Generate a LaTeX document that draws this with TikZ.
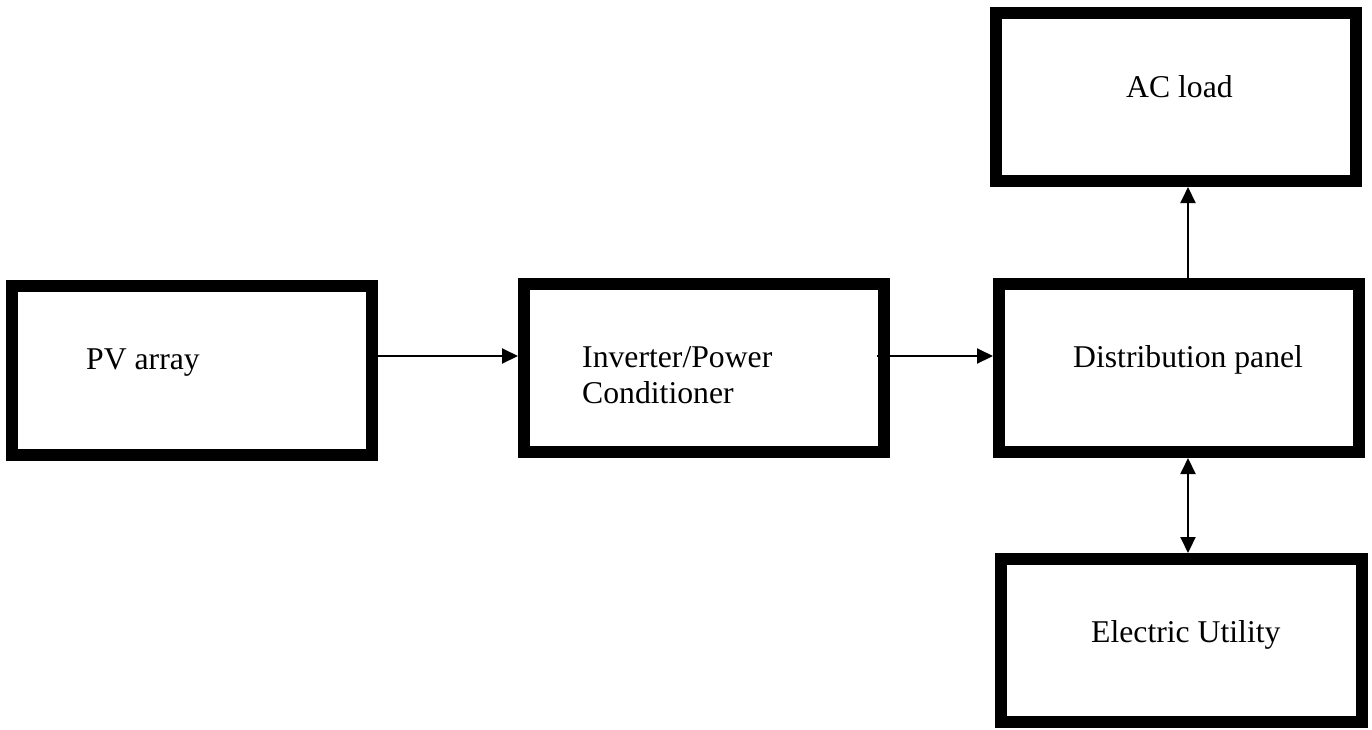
\documentclass[tikz,border=0pt]{standalone}
\usepackage{fontspec}
\setmainfont{Liberation Serif}
\usetikzlibrary{arrows.meta}

\def\blockwidth{360pt}
\tikzstyle{block} = [rectangle,
minimum width=\blockwidth,
minimum height=168pt,
line width=12pt,
draw=black,
fill=white]
\tikzstyle{blocktext} = [inner sep=0pt,
anchor=base west,
align=left,
font=\fontsize{31.7}{36}\selectfont]
\tikzstyle{conn} = [line width=2pt,
>={Triangle[length=16pt,width=15pt]},
->]

\begin{document}
\begin{tikzpicture}[x=1pt,y=-1pt]
    \useasboundingbox (0,0) rectangle (1372,729);
    %%%%%%%%%%%%%%%%%%%%%%%%%%%%%%%%%%%%%%%%
    % Blocks
    %%%%%%%%%%%%%%%%%%%%%%%%%%%%%%%%%%%%%%%%
    \node (pv) [block, minimum height=169pt] at (192,370.5) {};
    \node (inv) [block] at (704,368) {};
    \node (dist) [block] at (1179,368) {};
    \node (load) [block] at (1176,97) {};
    \node (grid) [block, minimum width=361pt, minimum height=163pt] at (1181.5,640.5) {};
    %%%%%%%%%%%%%%%%%%%%%%%%%%%%%%%%%%%%%%%%
    % Texts
    %%%%%%%%%%%%%%%%%%%%%%%%%%%%%%%%%%%%%%%%
    \node (pvtext) [blocktext] at (86,369) {PV array};
    % base anchor sits on the last line here
    \node (invtext) [blocktext] at (582,403) {Inverter/Power\\Conditioner};
    \node (disttext) [blocktext] at (1073,367) {Distribution panel};
    \node (loadtext) [blocktext] at (1126,97) {AC load};
    \node (gridtext) [blocktext] at (1091,642) {Electric Utility};
    %%%%%%%%%%%%%%%%%%%%%%%%%%%%%%%%%%%%%%%%
    % Connectors
    %%%%%%%%%%%%%%%%%%%%%%%%%%%%%%%%%%%%%%%%
    \coordinate (row) at (0,356);
    \coordinate (col) at (1188,0);
    \draw[conn] (pv.east |- row) -- (inv.west |- row);
    \draw[conn] ([xshift=-13pt]inv.east |- row) -- (dist.west |- row);
    \draw[conn] (dist.north -| col) -- (load.south -| col);
    \draw[conn, <->] (dist.south -| col) -- (grid.north -| col);
\end{tikzpicture}
\end{document}
